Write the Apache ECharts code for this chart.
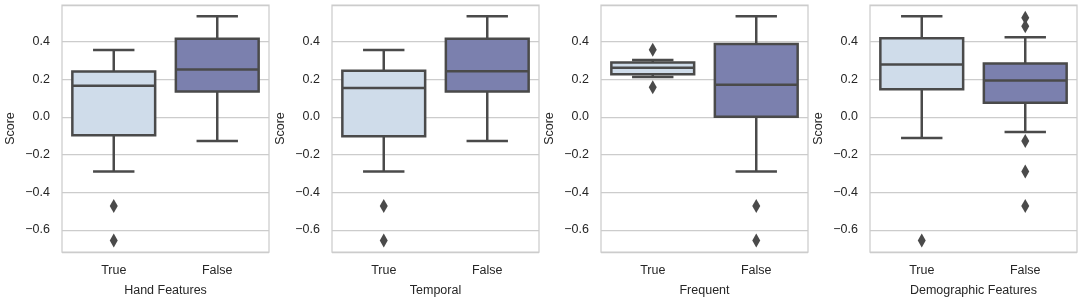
<!DOCTYPE html>
<html>
<head>
<meta charset="utf-8">
<script src="https://cdn.jsdelivr.net/npm/echarts@6/dist/echarts.min.js"></script>
<style>
  html, body { margin: 0; padding: 0; background: #fff; }
  #chart { width: 1084px; height: 302px; }
</style>
</head>
<body>
<div id="chart"></div>
<script>
// x-axis titles of the four panels
let panelNames = ['Hand Features', 'Temporal', 'Frequent', 'Demographic Features'];
let categories = ['True', 'False'];

// box stats: [lower whisker, Q1, median, Q3, upper whisker]
let handTrue = [-0.29, -0.098, 0.164, 0.24, 0.354];
let handFalse = [-0.128, 0.134, 0.251, 0.414, 0.533];
let temporalTrue = [-0.29, -0.103, 0.152, 0.244, 0.354];
let temporalFalse = [-0.128, 0.134, 0.242, 0.414, 0.533];
let frequentTrue = [0.211, 0.225, 0.26, 0.288, 0.301];
let frequentFalse = [-0.29, 0.0, 0.17, 0.386, 0.533];
let demoTrue = [-0.112, 0.146, 0.277, 0.416, 0.533];
let demoFalse = [-0.08, 0.075, 0.193, 0.283, 0.421];

// outliers: [category index, score]
let handOutliers = [[0, -0.473], [0, -0.655]];
let temporalOutliers = [[0, -0.473], [0, -0.655]];
let frequentOutliers = [[0, 0.355], [0, 0.157], [1, -0.473], [1, -0.655]];
let demoOutliers = [[0, -0.655], [1, 0.525], [1, 0.48], [1, -0.128], [1, -0.29], [1, -0.473]];

let boxes = [
    [handTrue, handFalse],
    [temporalTrue, temporalFalse],
    [frequentTrue, frequentFalse],
    [demoTrue, demoFalse]
];
let outliers = [handOutliers, temporalOutliers, frequentOutliers, demoOutliers];

let boxColors = ['#cfdcea', '#7b80ae'];
let edgeColor = '#4a4a4a';
let textColor = '#262626';
let font = 'Liberation Sans';
let gridLefts = [62, 332, 601, 870];

function renderBox(params, api) {
    let cat = api.value(0);
    let low = api.coord([cat, api.value(1)]);
    let q1 = api.coord([cat, api.value(2)]);
    let med = api.coord([cat, api.value(3)]);
    let q3 = api.coord([cat, api.value(4)]);
    let high = api.coord([cat, api.value(5)]);
    let bw = api.size([1, 0])[0] * 0.8;
    let cx = low[0];
    let lineStyle = { stroke: edgeColor, lineWidth: 2.5 };
    return {
        type: 'group',
        children: [
            // whiskers + caps (caps are half the box width)
            { type: 'line', shape: { x1: cx, y1: q3[1], x2: cx, y2: high[1] }, style: lineStyle },
            { type: 'line', shape: { x1: cx, y1: q1[1], x2: cx, y2: low[1] }, style: lineStyle },
            { type: 'line', shape: { x1: cx - bw / 4, y1: high[1], x2: cx + bw / 4, y2: high[1] }, style: lineStyle },
            { type: 'line', shape: { x1: cx - bw / 4, y1: low[1], x2: cx + bw / 4, y2: low[1] }, style: lineStyle },
            {
                type: 'rect',
                shape: { x: cx - bw / 2, y: q3[1], width: bw, height: q1[1] - q3[1] },
                style: { fill: boxColors[cat], stroke: edgeColor, lineWidth: 2.5 }
            },
            { type: 'line', shape: { x1: cx - bw / 2, y1: med[1], x2: cx + bw / 2, y2: med[1] }, style: lineStyle }
        ]
    };
}

let grids = [], xAxes = [], yAxes = [], series = [];
for (let i = 0; i < 4; i++) {
    grids.push({
        left: gridLefts[i], width: 207, top: 5, height: 247,
        show: true, borderColor: '#cccccc', borderWidth: 1.25
    });
    xAxes.push({
        type: 'category', gridIndex: i, data: categories,
        name: panelNames[i], nameLocation: 'middle', nameGap: 32,
        nameTextStyle: { color: textColor, fontSize: 12.5, fontFamily: font },
        axisLine: { show: false }, axisTick: { show: false },
        axisLabel: { color: textColor, fontSize: 12.5, fontFamily: font, margin: 12 },
        splitLine: { show: false }
    });
    yAxes.push({
        type: 'value', gridIndex: i, min: -0.7165, max: 0.5925,
        splitNumber: 6, minInterval: 0.2, maxInterval: 0.2,
        name: 'Score', nameLocation: 'middle', nameGap: 45,
        nameTextStyle: { color: textColor, fontSize: 12.5, fontFamily: font },
        axisLine: { show: false }, axisTick: { show: false },
        axisLabel: {
            color: textColor, fontSize: 12.5, fontFamily: font, margin: 12,
            showMinLabel: false, showMaxLabel: false,
            formatter: (v) => v.toFixed(1).replace('-', '\u2212')
        },
        splitLine: { show: true, lineStyle: { color: '#cccccc', width: 1.25 } }
    });
    series.push({
        type: 'custom', xAxisIndex: i, yAxisIndex: i,
        renderItem: renderBox,
        encode: { x: 0, y: [1, 2, 3, 4, 5] },
        data: boxes[i].map((b, k) => [k].concat(b)),
        z: 2
    });
    series.push({
        type: 'scatter', xAxisIndex: i, yAxisIndex: i,
        symbol: 'diamond', symbolSize: [8, 14],
        itemStyle: { color: edgeColor, opacity: 1 },
        data: outliers[i],
        z: 3
    });
}

let options = {
    animation: false,
    grid: grids,
    xAxis: xAxes,
    yAxis: yAxes,
    series: series
};

let chart = echarts.init(document.getElementById('chart'));
chart.setOption(options);
</script>
</body>
</html>
